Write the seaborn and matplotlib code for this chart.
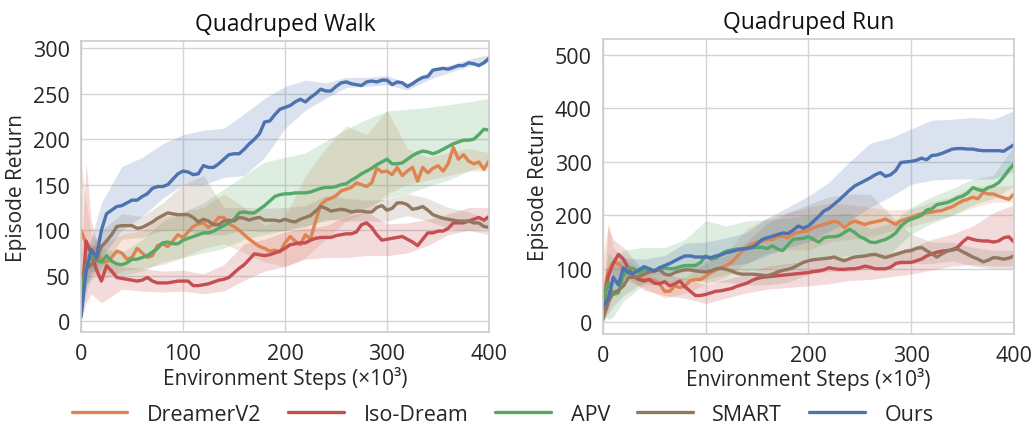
import numpy as np
import pandas as pd
import matplotlib
matplotlib.use("Agg")
import matplotlib.pyplot as plt
import seaborn as sns

# ---------------- data ----------------
methods = ["DreamerV2", "Iso-Dream", "APV", "SMART", "Ours"]
colors = ["#dd8452", "#c44e52", "#55a868", "#937860", "#4c72b0"]
steps = list(range(0, 405, 5))          # x (×10^3 env steps)
band_steps = [0, 5, 10, 20, 40, 60, 80, 100, 120, 140, 160, 180, 200,
              220, 240, 260, 280, 300, 320, 340, 360, 380, 400]

# --- Quadruped Walk ---
walk_dreamer = [100, 85, 75, 80, 65, 65, 70, 77, 75, 68, 70, 80, 75, 70, 72, 83, 85, 82, 88, 95,
                92, 98, 104, 107, 108, 103, 107, 114, 114, 107, 104, 100, 95, 90, 86, 82, 80, 77, 78, 76,
                86, 93, 88, 84, 95, 90, 110, 128, 133, 135, 138, 143, 145, 147, 152, 150, 148, 152, 168, 164,
                165, 161, 169, 160, 165, 169, 154, 169, 163, 168, 171, 165, 173, 191, 178, 183, 176, 173, 175, 167,
                176]
walk_iso = [5, 88, 75, 57, 44, 61, 55, 48, 47, 46, 45, 44, 45, 48, 44, 42, 42, 42, 43, 44,
            44, 44, 39, 39, 40, 41, 43, 45, 46, 48, 53, 58, 62, 68, 74, 73, 72, 73, 75, 77,
            80, 84, 85, 86, 86, 89, 91, 92, 92, 92, 94, 95, 96, 96, 98, 106, 108, 103, 95, 89,
            90, 91, 92, 93, 90, 87, 83, 90, 97, 97, 99, 99, 102, 108, 108, 108, 110, 112, 114, 111,
            115]
walk_apv = [30, 60, 72, 67, 65, 72, 66, 63, 62, 64, 68, 68, 70, 72, 76, 80, 86, 87, 85, 85,
            89, 91, 93, 95, 97, 97, 99, 102, 105, 108, 112, 119, 120, 119, 119, 123, 127, 132, 137, 139,
            140, 140, 141, 141, 141, 142, 144, 146, 147, 147, 148, 150, 151, 155, 158, 162, 165, 168, 172, 175,
            178, 173, 173, 174, 178, 182, 185, 187, 186, 184, 186, 189, 192, 195, 197, 199, 199, 200, 205, 211,
            210]
walk_smart = [50, 57, 62, 68, 82, 88, 95, 104, 105, 105, 105, 102, 103, 106, 109, 113, 116, 119, 118, 117,
              117, 117, 114, 109, 112, 110, 106, 106, 110, 111, 110, 114, 113, 111, 113, 114, 111, 111, 111, 110,
              112, 110, 109, 112, 114, 116, 121, 126, 124, 121, 122, 123, 122, 120, 121, 121, 120, 120, 125, 127,
              122, 124, 130, 130, 128, 123, 124, 126, 122, 117, 115, 113, 112, 111, 110, 110, 110, 108, 108, 104,
              103]
walk_ours = [5, 55, 79, 70, 100, 118, 122, 126, 127, 130, 133, 133, 137, 140, 146, 148, 148, 150, 156, 162,
             165, 164, 161, 162, 171, 169, 169, 173, 178, 183, 184, 184, 189, 195, 200, 206, 219, 220, 227, 233,
             235, 237, 241, 244, 241, 246, 250, 255, 253, 253, 258, 262, 263, 261, 260, 259, 263, 264, 263, 265,
             265, 260, 263, 262, 258, 261, 265, 268, 269, 276, 277, 278, 277, 279, 281, 281, 284, 283, 281, 284,
             289]
walk_lo = {
    "DreamerV2": [40, 50, 55, 45, 55, 58, 62, 70, 80, 85, 75, 65, 60, 70, 90, 110, 120, 140, 150, 155, 160, 165, 165],
    "Iso-Dream": [0, 20, 30, 20, 35, 33, 32, 33, 30, 33, 45, 55, 60, 68, 70, 70, 72, 72, 75, 83, 95, 100, 103],
    "APV":       [10, 40, 55, 55, 50, 55, 65, 70, 75, 80, 90, 95, 100, 105, 110, 115, 125, 135, 140, 148, 155, 165, 172],
    "SMART":     [30, 40, 45, 60, 90, 92, 100, 100, 95, 95, 100, 98, 100, 103, 112, 110, 110, 110, 116, 110, 102, 100, 95],
    "Ours":      [0, 30, 50, 70, 100, 115, 135, 150, 150, 158, 160, 180, 212, 232, 245, 257, 258, 260, 254, 265, 273, 280, 285],
}
walk_hi = {
    "DreamerV2": [175, 130, 95, 85, 95, 100, 115, 120, 125, 140, 125, 105, 115, 160, 190, 215, 205, 232, 190, 180, 185, 190, 185],
    "Iso-Dream": [60, 175, 110, 70, 60, 58, 55, 56, 52, 62, 85, 90, 98, 102, 105, 115, 120, 107, 108, 112, 118, 125, 125],
    "APV":       [50, 80, 85, 80, 75, 90, 110, 120, 130, 145, 160, 175, 180, 185, 198, 211, 222, 231, 233, 235, 238, 241, 245],
    "SMART":     [60, 70, 80, 100, 118, 115, 130, 150, 160, 125, 125, 124, 125, 127, 138, 135, 133, 134, 140, 135, 125, 120, 112],
    "Ours":      [10, 80, 90, 130, 170, 180, 195, 205, 210, 212, 228, 245, 258, 265, 262, 268, 268, 270, 262, 273, 281, 288, 293],
}

# --- Quadruped Run ---
run_dreamer = [43, 95, 112, 110, 100, 95, 85, 80, 80, 80, 78, 72, 58, 58, 68, 65, 68, 78, 80, 80,
               86, 93, 98, 102, 106, 112, 122, 132, 140, 146, 150, 152, 155, 155, 160, 161, 158, 165, 168, 170,
               171, 177, 180, 183, 186, 189, 186, 177, 185, 189, 186, 183, 186, 188, 190, 193, 188, 183, 190, 193,
               196, 200, 203, 205, 206, 208, 209, 213, 216, 222, 227, 230, 234, 231, 243, 240, 240, 236, 233, 230,
               240]
run_iso = [24, 85, 110, 127, 118, 100, 85, 80, 77, 80, 73, 72, 76, 68, 72, 77, 66, 58, 50, 50,
           52, 55, 58, 59, 61, 63, 67, 70, 73, 78, 82, 84, 85, 86, 87, 88, 89, 90, 91, 92,
           93, 95, 96, 98, 102, 100, 99, 99, 100, 100, 102, 105, 103, 100, 100, 100, 103, 110, 112, 112,
           112, 115, 118, 124, 128, 131, 133, 134, 136, 140, 150, 158, 155, 153, 152, 152, 150, 152, 158, 160,
           150]
run_apv = [37, 74, 52, 55, 87, 102, 100, 93, 98, 97, 96, 100, 102, 100, 101, 104, 106, 106, 106, 112,
           124, 118, 120, 128, 133, 135, 137, 137, 138, 140, 140, 140, 138, 143, 137, 134, 145, 155, 156, 157,
           160, 155, 150, 158, 160, 160, 162, 168, 174, 168, 160, 156, 150, 149, 152, 155, 160, 167, 180, 188,
           193, 196, 200, 210, 212, 220, 222, 224, 228, 233, 236, 242, 252, 248, 246, 252, 255, 261, 272, 285,
           296]
run_smart = [5, 37, 55, 60, 68, 84, 84, 85, 90, 94, 96, 98, 90, 88, 93, 96, 98, 98, 96, 95,
             94, 96, 100, 101, 99, 96, 92, 90, 90, 90, 89, 88, 87, 90, 94, 97, 99, 102, 107, 112,
             115, 117, 118, 119, 120, 122, 118, 115, 119, 122, 123, 124, 126, 127, 124, 121, 124, 127, 130, 133,
             134, 138, 140, 134, 128, 122, 128, 133, 135, 137, 132, 127, 122, 118, 113, 116, 121, 120, 118, 120,
             124]
run_ours = [30, 43, 84, 70, 102, 92, 92, 98, 104, 100, 96, 102, 106, 110, 115, 120, 124, 124, 122, 122,
            122, 121, 124, 126, 130, 132, 135, 137, 138, 140, 146, 155, 158, 161, 164, 167, 166, 172, 180, 176,
            180, 189, 198, 208, 213, 221, 229, 238, 247, 255, 260, 265, 270, 276, 280, 273, 276, 284, 299, 300,
            301, 303, 307, 304, 312, 313, 316, 320, 324, 325, 325, 324, 324, 322, 321, 321, 321, 321, 320, 326,
            332]
run_lo = {
    "DreamerV2": [20, 40, 80, 80, 65, 45, 55, 70, 85, 110, 130, 135, 135, 150, 155, 160, 170, 180, 190, 200, 215, 225, 225],
    "Iso-Dream": [10, 25, 70, 90, 60, 50, 45, 35, 45, 55, 62, 65, 68, 72, 78, 80, 85, 90, 98, 105, 108, 105, 105],
    "APV":       [20, 5, 10, 40, 70, 72, 75, 80, 90, 95, 100, 105, 115, 120, 125, 125, 130, 165, 185, 200, 220, 232, 255],
    "SMART":     [0, 15, 30, 50, 75, 75, 80, 75, 75, 70, 70, 75, 90, 95, 95, 100, 105, 110, 110, 115, 105, 100, 100],
    "Ours":      [15, 25, 55, 80, 90, 90, 100, 100, 105, 110, 125, 140, 150, 170, 190, 215, 235, 258, 266, 268, 268, 268, 282],
}
run_hi = {
    "DreamerV2": [120, 185, 140, 120, 95, 75, 85, 110, 130, 175, 195, 205, 215, 222, 220, 215, 210, 212, 225, 235, 255, 255, 255],
    "Iso-Dream": [40, 180, 155, 140, 95, 90, 82, 70, 80, 90, 105, 110, 115, 125, 120, 125, 130, 140, 155, 165, 180, 205, 220],
    "APV":       [55, 130, 120, 135, 140, 140, 155, 190, 180, 190, 192, 195, 200, 200, 205, 175, 185, 215, 235, 250, 268, 275, 330],
    "SMART":     [20, 60, 75, 90, 105, 100, 110, 115, 125, 150, 185, 205, 220, 235, 240, 240, 200, 165, 150, 150, 140, 135, 135],
    "Ours":      [45, 65, 105, 120, 118, 125, 148, 150, 158, 168, 195, 215, 236, 262, 300, 335, 345, 362, 378, 380, 383, 380, 396],
}

walk_means = dict(zip(methods, [walk_dreamer, walk_iso, walk_apv, walk_smart, walk_ours]))
run_means = dict(zip(methods, [run_dreamer, run_iso, run_apv, run_smart, run_ours]))

# ---------------- plotting ----------------
sns.set_theme(style="whitegrid")
plt.rcParams["font.family"] = ["Open Sans", "DejaVu Sans"]
plt.rcParams["axes.edgecolor"] = "#cccccc"
plt.rcParams["grid.color"] = "#d5d5d5"

fig = plt.figure(figsize=(10.36, 4.27), dpi=100)
ax1 = fig.add_axes([0.0782, 0.2201, 0.3938, 0.6815])
ax2 = fig.add_axes([0.5820, 0.2155, 0.3967, 0.6908])

panels = [
    (ax1, "Quadruped Walk", walk_means, walk_lo, walk_hi, (-12, 308), [0, 50, 100, 150, 200, 250, 300]),
    (ax2, "Quadruped Run", run_means, run_lo, run_hi, (-22, 530), [0, 100, 200, 300, 400, 500]),
]

for ax, title, means, lo, hi, ylim, yticks in panels:
    rows = []
    for m in methods:
        for s, v in zip(steps, means[m]):
            rows.append({"step": s, "ret": v, "method": m})
    df = pd.DataFrame(rows)
    for m, c in zip(methods, colors):
        ax.fill_between(band_steps, lo[m], hi[m], color=c, alpha=0.2, linewidth=0)
    sns.lineplot(data=df, x="step", y="ret", hue="method", hue_order=methods,
                 palette=colors, linewidth=2.4, ax=ax, legend=False, errorbar=None)
    ax.set_xlim(0, 400)
    ax.set_ylim(*ylim)
    ax.set_xticks([0, 100, 200, 300, 400])
    ax.set_yticks(yticks)
    ax.tick_params(axis="both", labelsize=15.5, pad=2, colors="#262626")
    ax.set_title(title, fontsize=16.5, pad=8, color="#111111")
    ax.set_xlabel("Environment Steps (×10³)", fontsize=15, labelpad=1)
    ax.set_ylabel("Episode Return", fontsize=15, labelpad=4)
    for sp in ax.spines.values():
        sp.set_color("#cccccc")
        sp.set_linewidth(1.2)

handles = [plt.Line2D([], [], color=c, linewidth=2.4) for c in colors]
fig.legend(handles, methods, loc="center", bbox_to_anchor=(0.485, 0.028), ncol=5,
           frameon=False, fontsize=15.5, handlelength=2.6, handletextpad=0.9,
           columnspacing=1.25)

fig.savefig("out.png", dpi=100)
